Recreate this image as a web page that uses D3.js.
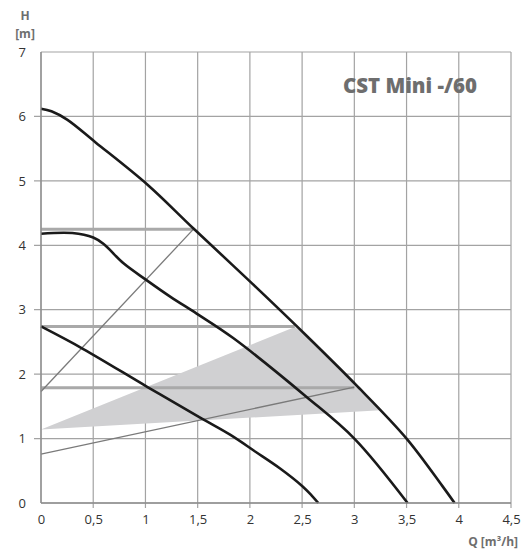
<!DOCTYPE html>
<html><head><meta charset="utf-8">
<script src="https://cdn.jsdelivr.net/npm/d3@7"></script>
<style>
html,body{margin:0;padding:0;background:#fff;}
svg{display:block;font-family:"Open Sans","Noto Sans",sans-serif;}
</style></head><body>
<svg id="chart" width="527" height="554"></svg>
<script>
// ---- data ----
const qTicks = [0, 0.5, 1, 1.5, 2, 2.5, 3, 3.5, 4, 4.5];
const qTickLabels = ["0", "0,5", "1", "1,5", "2", "2,5", "3", "3,5", "4", "4,5"];
const hTicks = [0, 1, 2, 3, 4, 5, 6, 7];
const hTickLabels = ["0", "1", "2", "3", "4", "5", "6", "7"];

const curveMaxQ = [0, 0.1, 0.25, 0.52, 1.02, 1.46, 2.0, 2.54, 3.03, 3.5, 3.84, 3.96];
const curveMaxH = [6.12, 6.08, 5.95, 5.6, 4.94, 4.26, 3.44, 2.6, 1.81, 1.0, 0.27, 0];
const curveMidQ = [0, 0.3, 0.5, 0.6, 0.79, 1.01, 1.24, 1.49, 1.84, 2.54, 3.0, 3.51];
const curveMidH = [4.18, 4.19, 4.12, 4.02, 3.72, 3.46, 3.2, 2.94, 2.56, 1.65, 1.0, 0];
const curveMinQ = [0, 0.405, 1.02, 1.54, 1.81, 2.05, 2.286, 2.5, 2.59, 2.655];
const curveMinH = [2.74, 2.39, 1.80, 1.31, 1.06, 0.8, 0.54, 0.265, 0.12, 0];

const dutyH = [4.25, 2.74, 1.79];
const dutyQEnd = [1.46, 2.43, 3.0];

const sysUpperQ = [0, 1.46];
const sysUpperH = [1.73, 4.25];
const sysLowerQ = [0, 3.0];
const sysLowerH = [0.76, 1.8];

const shadeQ = [0, 2.43, 2.54, 3.03, 3.25];
const shadeH = [1.14, 2.73, 2.6, 1.81, 1.44];

const title = "CST Mini -/60";

// ---- chart ----
const svg = d3.select("#chart");
const x = d3.scaleLinear().domain([0, 4.5]).range([41, 511]);
const y = d3.scaleLinear().domain([0, 7]).range([503, 52]);

const gridColor = "#a3a3a3";
const labelColor = "#333";
const titleColor = "#6e6e6e";

// grid
const g = svg.append("g");
g.selectAll("line.v").data(qTicks).join("line")
  .attr("x1", d => x(d)).attr("x2", d => x(d))
  .attr("y1", y(7)).attr("y2", d => d === 0 ? y(0) : y(0) + 5)
  .attr("stroke", gridColor).attr("stroke-width", 1.2);
g.selectAll("line.h").data(hTicks).join("line")
  .attr("x1", d => d === 7 || d === 0 ? x(0) : x(0) - 7).attr("x2", x(4.5))
  .attr("y1", d => y(d)).attr("y2", d => y(d))
  .attr("stroke", gridColor).attr("stroke-width", 1.2);

// axes labels via d3 axes (text only)
const xAxis = d3.axisBottom(x).tickValues(qTicks).tickFormat((d, i) => qTickLabels[i]).tickSize(0).tickPadding(12);
const xg = svg.append("g").attr("transform", `translate(0,${y(0)})`).call(xAxis);
xg.select(".domain").remove();
xg.selectAll("text").attr("font-size", 13).attr("fill", labelColor).attr("font-family", "Open Sans, sans-serif");

const yAxis = d3.axisLeft(y).tickValues(hTicks).tickFormat((d, i) => hTickLabels[i]).tickSize(0).tickPadding(15);
const yg = svg.append("g").attr("transform", `translate(${x(0)},0)`).call(yAxis);
yg.select(".domain").remove();
yg.selectAll("text").attr("font-size", 13).attr("fill", labelColor).attr("font-family", "Open Sans, sans-serif");

// shaded area
const shadePts = shadeQ.map((q, i) => [x(q), y(shadeH[i])]);
svg.append("polygon")
  .attr("points", shadePts.map(p => p.join(",")).join(" "))
  .attr("fill", "#d0d0d2");

// duty lines
svg.selectAll("line.duty").data(dutyH).join("line")
  .attr("x1", x(0)).attr("x2", (d, i) => x(dutyQEnd[i]))
  .attr("y1", d => y(d)).attr("y2", d => y(d))
  .attr("stroke", "#a9a9a9").attr("stroke-width", 3);

// system lines
const line = d3.line().x(d => x(d[0])).y(d => y(d[1]));
[[sysUpperQ, sysUpperH], [sysLowerQ, sysLowerH]].forEach(([qs, hs]) => {
  svg.append("path").attr("d", line(qs.map((q, i) => [q, hs[i]])))
    .attr("fill", "none").attr("stroke", "#7a7a7a").attr("stroke-width", 1.3);
});

// pump curves
const curve = d3.line().x(d => x(d[0])).y(d => y(d[1])).curve(d3.curveCatmullRom.alpha(0.5));
[[curveMaxQ, curveMaxH], [curveMidQ, curveMidH], [curveMinQ, curveMinH]].forEach(([qs, hs]) => {
  svg.append("path").attr("d", curve(qs.map((q, i) => [q, hs[i]])))
    .attr("fill", "none").attr("stroke", "#1a1a1a").attr("stroke-width", 2.6);
});

// axis frame (left axis slightly darker)
svg.append("line").attr("x1", x(0)).attr("x2", x(0)).attr("y1", y(7)).attr("y2", y(0))
  .attr("stroke", "#8c8c8c").attr("stroke-width", 1.3);
svg.append("line").attr("x1", x(0)).attr("x2", x(4.5)).attr("y1", y(0)).attr("y2", y(0))
  .attr("stroke", "#8c8c8c").attr("stroke-width", 1.3);

// title
svg.append("text").attr("x", 477).attr("y", 93).attr("text-anchor", "end")
  .attr("font-size", 21).attr("font-weight", 800).attr("fill", titleColor)
  .attr("font-family", "Open Sans, sans-serif")
  .attr("textLength", 134).attr("lengthAdjust", "spacingAndGlyphs")
  .text(title);

// axis titles
svg.append("text").attr("x", 25).attr("y", 20).attr("text-anchor", "middle")
  .attr("font-size", 12).attr("font-weight", "bold").attr("fill", titleColor).text("H");
svg.append("text").attr("x", 25).attr("y", 38).attr("text-anchor", "middle")
  .attr("font-size", 12).attr("font-weight", "bold").attr("fill", titleColor).text("[m]");
svg.append("text").attr("x", 518).attr("y", 546).attr("text-anchor", "end")
  .attr("font-size", 12).attr("font-weight", "bold").attr("fill", titleColor).text("Q [m³/h]");
</script>
</body></html>
